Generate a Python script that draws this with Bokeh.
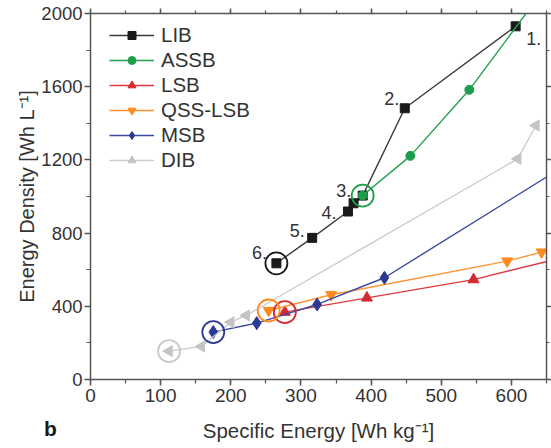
import math
from bokeh.plotting import figure
from bokeh.models import (LinearAxis, Range1d, Legend, LegendItem, Label, SingleIntervalTicker,
                          CustomJSTickFormatter)
from bokeh.core.properties import value
from bokeh.embed import file_html
from bokeh.resources import INLINE

# ---- data ----
lib_x = [606, 448, 388, 375, 367, 316, 265]
lib_y = [1930, 1482, 1005, 963, 918, 774, 635]
lib_labels = ["1.", "2.", "3.", "", "4.", "5.", "6."]

assb_x = [388, 456, 540, 645]
assb_y = [1005, 1222, 1583, 2125]

lsb_x = [277, 394, 546, 700]
lsb_y = [368, 446, 546, 692]

qss_x = [254, 343, 594, 643]
qss_y = [377, 463, 647, 696]

msb_x = [175, 237, 323, 419, 700]
msb_y = [259, 308, 410, 556, 1225]

dib_x = [112, 158, 200, 222, 609, 635]
dib_y = [155, 180, 313, 350, 1206, 1388]

FONT = "Liberation Sans"
TXT = "#333333"
AX = "#555555"

p = figure(width=551, height=448, x_range=Range1d(0, 650), y_range=Range1d(0, 2000),
           output_backend="svg", toolbar_location=None,
           min_border_left=89, min_border_right=5, min_border_top=13, min_border_bottom=69,
           x_axis_label="Specific Energy [Wh kg\u207b\u00b9]",
           y_axis_label="Energy Density [Wh L\u207b\u00b9]")
p.grid.visible = False
p.outline_line_color = None
p.background_fill_color = "white"
p.border_fill_color = "white"

bottom = p.below[0]
left = p.left[0]
bottom.ticker = SingleIntervalTicker(interval=100, num_minor_ticks=2)
left.ticker = SingleIntervalTicker(interval=400, num_minor_ticks=2)

blank = CustomJSTickFormatter(code="return ''")
top = LinearAxis(ticker=SingleIntervalTicker(interval=100, num_minor_ticks=2), formatter=blank)
right = LinearAxis(ticker=SingleIntervalTicker(interval=400, num_minor_ticks=2), formatter=blank)
p.add_layout(top, "above")
p.add_layout(right, "right")

for ax in [bottom, left, top, right]:
    ax.axis_line_color = AX
    ax.axis_line_width = 1.5
    ax.major_tick_line_color = AX
    ax.major_tick_line_width = 1.5
    ax.minor_tick_line_color = AX
    ax.minor_tick_line_width = 1.2
    ax.major_tick_in = 0
    ax.major_tick_out = 6
    ax.minor_tick_in = 0
    ax.minor_tick_out = 4
    ax.major_label_text_font = FONT
    ax.major_label_text_font_size = "19px"
    ax.major_label_text_color = TXT
    ax.axis_label_text_font = FONT
    ax.axis_label_text_font_size = "20px"
    ax.axis_label_text_font_style = "normal"
    ax.axis_label_text_color = TXT

for ax in [top, right]:
    ax.major_label_standoff = 0
    ax.major_tick_out = 5
    ax.minor_tick_out = 3

left.major_label_text_font_size = "18.5px"
bottom.axis_label_text_font_size = "20.5px"
bottom.axis_label_standoff = 14
bottom.major_label_standoff = 3
left.axis_label_standoff = 0
left.major_label_standoff = 2

series = [
    ("LIB", lib_x, lib_y, "#3a3a3a", "#1a1a1a", "square", 9, 0),
    ("ASSB", assb_x, assb_y, "#23a14f", "#1e9e4a", "circle", 9, 0),
    ("LSB", lsb_x, lsb_y, "#dd3a40", "#d42a33", "triangle", 11, 0),
    ("QSS-LSB", qss_x, qss_y, "#ff9233", "#ff8a1f", "inverted_triangle", 11, 0),
    ("MSB", msb_x, msb_y, "#3b4aa0", "#2b3990", "diamond", 13, 0),
    ("DIB", dib_x, dib_y, "#cccccc", "#c4c4c4", "triangle", 11, math.pi / 2),
]

items = []
for name, xs, ys, lc, mc, mk, sz, ang in series:
    r1 = p.line(xs, ys, line_color=lc, line_width=1.4)
    r2 = p.scatter(xs, ys, marker=mk, size=sz, angle=ang, fill_color=mc, line_color=mc)
    items.append(LegendItem(label=name, renderers=[r1, r2]))

# highlighted (circled) starting points
ring_x = [lib_x[-1], assb_x[0], lsb_x[0], qss_x[0], msb_x[0], dib_x[0]]
ring_y = [lib_y[-1], assb_y[0], lsb_y[0], qss_y[0], msb_y[0], dib_y[0]]
ring_c = ["#1a1a1a", "#1e9e4a", "#d42a33", "#ff8a1f", "#2b3990", "#c8c8c8"]
p.scatter(ring_x, ring_y, marker="circle", size=22, fill_color=None,
          line_color=ring_c, line_width=1.8)

# numbered LIB labels
p.text(lib_x, lib_y, text=lib_labels,
       x_offset=[18, -13, -19, 0, -19, -15, -17],
       y_offset=[12, -10, -5, 0, 1, -7, -11],
       text_align="center", text_baseline="middle",
       text_font=value(FONT), text_font_size="18px", text_color=TXT)

legend = Legend(items=items, location=(19, 207), margin=0, padding=0,
                glyph_width=45, glyph_height=20, label_height=20, spacing=1,
                label_standoff=7, label_text_font=FONT, label_text_font_size="20.5px",
                label_text_color=TXT, border_line_color=None, background_fill_alpha=0)
p.add_layout(legend, "center")

p.add_layout(Label(x=50, y=428, x_units="canvas", y_units="canvas", text="b",
                   text_font=FONT, text_font_style="bold",
                   text_font_size="21px", text_color="#1a1a1a",
                   text_align="center", text_baseline="middle"), "left")

open("out.html", "w").write(file_html(p, INLINE))
